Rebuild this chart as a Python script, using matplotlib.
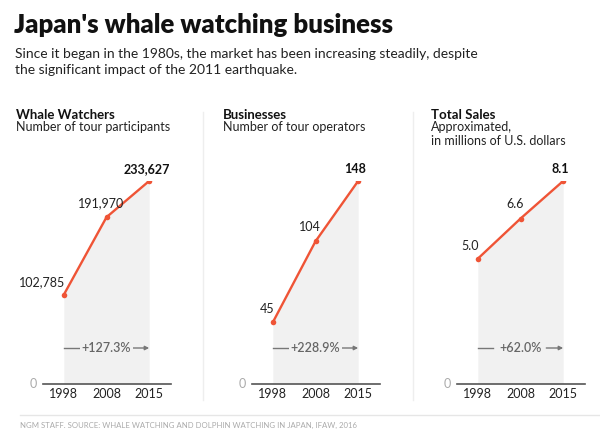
import matplotlib
matplotlib.use("Agg")
import matplotlib.pyplot as plt
from matplotlib.lines import Line2D
import matplotlib.transforms as mtransforms

plt.rcParams['font.family'] = ['Lato', 'DejaVu Sans']

years = ["1998", "2008", "2015"]
watchers = [102785, 191970, 233627]
businesses = [45, 104, 148]
sales = [5.0, 6.6, 8.1]
watchers_labels = ["102,785", "191,970", "233,627"]
business_labels = ["45", "104", "148"]
sales_labels = ["5.0", "6.6", "8.1"]
changes = ["+127.3%", "+228.9%", "+62.0%"]
panel_titles = ["Whale Watchers", "Businesses", "Total Sales"]
panel_subtitles = ["Number of tour participants", "Number of tour operators",
                   "Approximated,\nin millions of U.S. dollars"]

title = "Japan's whale watching business"
subtitle = ("Since it began in the 1980s, the market has been increasing steadily, despite\n"
            "the significant impact of the 2011 earthquake.")
footer = "NGM STAFF. SOURCE: WHALE WATCHING AND DOLPHIN WATCHING IN JAPAN, IFAW, 2016"

W, H = 600, 442
fig = plt.figure(figsize=(6, 4.42), dpi=100)

RED = "#ef5436"
FILL = "#f1f1f1"

def px(x, y):
    return x / W, 1 - y / H

fig.text(*px(14, 25), title, fontsize=18.5, fontweight='heavy', color='#111111',
         va='center', ha='left')
fig.text(*px(15, 62), subtitle, fontsize=10, color='#222222', va='center', ha='left',
         linespacing=1.3)

panels = [
    (watchers, watchers_labels, 42.5, 16),
    (businesses, business_labels, 251.5, 223),
    (sales, sales_labels, 456.5, 431),
]

for i, (vals, labs, left, tx) in enumerate(panels):
    ax = fig.add_axes([left / W, (H - 384) / H, 128 / W, 203 / H])
    xs = list(range(len(vals)))
    ax.fill_between(xs, 0, vals, color=FILL, lw=0, zorder=1)
    ax.plot(xs, vals, color=RED, lw=1.7, zorder=3, solid_capstyle='round')
    ax.scatter(xs, vals, color=RED, s=16, zorder=4, lw=0)
    ax.set_xlim(-0.5, 2.5)
    ax.set_ylim(0, max(vals))
    for s in ['top', 'left', 'right']:
        ax.spines[s].set_visible(False)
    ax.spines['bottom'].set_color('#555555')
    ax.spines['bottom'].set_linewidth(1.2)
    ax.spines['bottom'].set_zorder(5)
    ax.set_yticks([])
    ax.set_xticks(xs)
    ax.set_xticklabels(years, fontsize=9, color='#222222')
    ax.tick_params(axis='x', length=0, pad=3)
    ax.text(-0.5 - 6 / 43, 0, "0", transform=ax.transData, fontsize=9, color='#aaaaaa',
            ha='right', va='center')
    # value labels
    ax.annotate(labs[0], (0, vals[0]), xytext=(1, 5), textcoords='offset points',
                ha='right', va='bottom', fontsize=9, color='#222222', annotation_clip=False)
    ax.annotate(labs[1], (1, vals[1]), xytext=(-4, 6), textcoords='offset points',
                ha='center', va='bottom', fontsize=9, color='#222222', annotation_clip=False)
    ax.annotate(labs[2], (2, vals[2]), xytext=(-2, 4), textcoords='offset points',
                ha='center', va='bottom', fontsize=9, fontweight='bold', color='#111111',
                annotation_clip=False)
    # change arrow
    tr = mtransforms.blended_transform_factory(ax.transData, ax.transAxes)
    ya = 36 / 203
    ax.plot([0, 15 / 43], [ya, ya], transform=tr, color='#777777', lw=1, zorder=3)
    ax.annotate("", xy=(2, ya), xytext=(2 - 17 / 43, ya), xycoords=tr, textcoords=tr,
                arrowprops=dict(arrowstyle='-|>', color='#777777', lw=1,
                                mutation_scale=6, shrinkA=0, shrinkB=0))
    ax.text(1, ya, changes[i], transform=tr, ha='center', va='center', fontsize=9,
            color='#666666', fontweight='semibold', zorder=4,
            bbox=dict(boxstyle='square,pad=0.15', facecolor=FILL, edgecolor='none'))
    # panel titles
    fig.text(*px(tx, 115), panel_titles[i], fontsize=9.5, fontweight='bold',
             color='#111111', ha='left', va='center')
    fig.text(*px(tx, 121), panel_subtitles[i], fontsize=9, color='#222222',
             ha='left', va='top', linespacing=1.2)

# separators
for xs_ in [203, 413]:
    fig.add_artist(Line2D([xs_ / W, xs_ / W], [1 - 112 / H, 1 - 400 / H],
                          color='#eeeeee', lw=1))
fig.add_artist(Line2D([20 / W, 1], [1 - 415 / H, 1 - 415 / H], color='#e6e6e6', lw=1))
fig.text(*px(20, 425), footer, fontsize=5.6, color='#aaaaaa', ha='left', va='center')

fig.savefig("out.png", dpi=100)
